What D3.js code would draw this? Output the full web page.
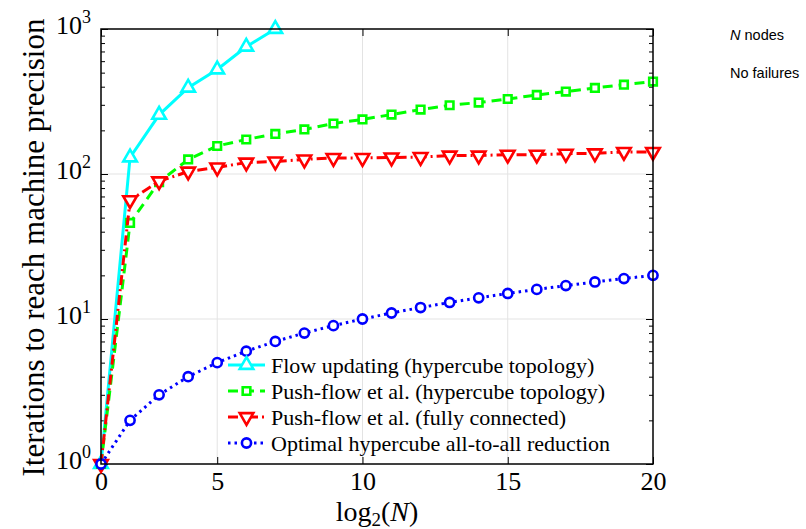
<!DOCTYPE html>
<html>
<head>
<meta charset="utf-8">
<script src="https://cdn.jsdelivr.net/npm/d3@7"></script>
<style>
body { margin: 0; background: #fff; }
.tick line { stroke: #000; }
</style>
</head>
<body>
<div id="chart"></div>
<script>
// SVG container size
var svgWidth = 806;
var svgHeight = 529;

var margin = { top: 29, right: 153, bottom: 65, left: 101 };
var width = svgWidth - margin.left - margin.right;
var height = svgHeight - margin.top - margin.bottom;

// Data
var steps = [1, 2, 3, 4, 5, 6, 7, 8, 9, 10, 11, 12, 13, 14, 15, 16, 17, 18, 19, 20];
var flowUpdating = [1, 130, 256, 394, 526, 755, 1000];
var pushFlowHypercube = [1, 46, 88, 126, 156, 173, 189, 203, 223, 238, 257, 278, 298, 311, 329, 351, 370, 392, 413, 434];
var pushFlowFull = [1, 66, 89, 104, 111, 120, 122, 126, 129, 129, 130, 131, 134, 134, 136, 136, 138, 139, 142, 142];
var optimalReduction = [1, 2, 3, 4, 5, 6, 7, 8, 9, 10, 11, 12, 13, 14, 15, 16, 17, 18, 19, 20];

var xTickValues = [1, 5, 10, 15, 20];
var xTickLabels = ["0", "5", "10", "15", "20"];
var yTickValues = [1, 10, 100, 1000];
var yTickExps = ["0", "1", "2", "3"];

var legendLabels = [
    "Flow updating (hypercube topology)",
    "Push-flow et al. (hypercube topology)",
    "Push-flow et al. (fully connected)",
    "Optimal hypercube all-to-all reduction"
];

var series = [
    { name: legendLabels[0], values: flowUpdating, color: "#00ffff", dash: null, symbol: d3.symbolTriangle, size: 80, rotate: 0 },
    { name: legendLabels[1], values: pushFlowHypercube, color: "#00ff00", dash: "10,6", symbol: d3.symbolSquare, size: 58, rotate: 0 },
    { name: legendLabels[2], values: pushFlowFull, color: "#ff0000", dash: "10,4,2,4", symbol: d3.symbolTriangle, size: 80, rotate: 180 },
    { name: legendLabels[3], values: optimalReduction, color: "#0000ff", dash: "2.5,4", symbol: d3.symbolCircle, size: 66, rotate: 0 }
];

var serif = "'Liberation Serif', 'Times New Roman', serif";

var svg = d3.select("#chart")
    .append("svg")
    .attr("width", svgWidth)
    .attr("height", svgHeight);

var chartGroup = svg.append("g")
    .attr("transform", `translate(${margin.left}, ${margin.top})`);

var xScale = d3.scaleLinear().domain([1, 20]).range([0, width]);
var yScale = d3.scaleLog().domain([1, 1000]).range([height, 0]);

// minor ticks on the log axis
var minorTicks = [];
[1, 10, 100].forEach(function (base) {
    for (var k = 2; k <= 9; k++) minorTicks.push(base * k);
});

// grid
chartGroup.append("g")
    .selectAll("line.gx")
    .data([5, 10, 15])
    .enter()
    .append("line")
    .attr("x1", d => xScale(d)).attr("x2", d => xScale(d))
    .attr("y1", 0).attr("y2", height)
    .attr("stroke", "#e3e3e3").attr("stroke-width", 1);

chartGroup.append("g")
    .selectAll("line.gy")
    .data([10, 100])
    .enter()
    .append("line")
    .attr("x1", 0).attr("x2", width)
    .attr("y1", d => yScale(d)).attr("y2", d => yScale(d))
    .attr("stroke", "#e3e3e3").attr("stroke-width", 1);

// axes (ticks pointing inward)
var xAxis = chartGroup.append("g")
    .attr("transform", `translate(0, ${height})`)
    .call(d3.axisBottom(xScale).tickValues(xTickValues)
        .tickFormat((d, i) => xTickLabels[i])
        .tickSizeInner(-7).tickSizeOuter(0).tickPadding(8));
xAxis.selectAll("text")
    .style("font-family", serif)
    .style("font-size", "26px")
    .attr("fill", "#000");

chartGroup.append("g")
    .call(d3.axisTop(xScale).tickValues(xTickValues).tickFormat("")
        .tickSizeInner(-7).tickSizeOuter(0));

var yAxis = chartGroup.append("g")
    .call(d3.axisLeft(yScale).tickValues(yTickValues).tickFormat("")
        .tickSizeInner(-7).tickSizeOuter(0));

chartGroup.append("g")
    .call(d3.axisLeft(yScale).tickValues(minorTicks).tickFormat("")
        .tickSizeInner(-4).tickSizeOuter(0));

chartGroup.append("g")
    .attr("transform", `translate(${width}, 0)`)
    .call(d3.axisRight(yScale).tickValues(yTickValues).tickFormat("")
        .tickSizeInner(-7).tickSizeOuter(0));

chartGroup.append("g")
    .attr("transform", `translate(${width}, 0)`)
    .call(d3.axisRight(yScale).tickValues(minorTicks).tickFormat("")
        .tickSizeInner(-4).tickSizeOuter(0));

chartGroup.selectAll(".domain").remove();

// y tick labels 10^k
var yLabels = chartGroup.append("g")
    .selectAll("text")
    .data(yTickValues)
    .enter()
    .append("text")
    .attr("x", -10)
    .attr("y", d => yScale(d) + 5)
    .attr("text-anchor", "end")
    .style("font-family", serif)
    .style("font-size", "26px");
yLabels.append("tspan").text("10");
yLabels.append("tspan")
    .attr("dy", -11)
    .style("font-size", "18px")
    .text((d, i) => yTickExps[i]);

// lines and markers
var line = d3.line()
    .x((d, i) => xScale(steps[i]))
    .y(d => yScale(d));

series.forEach(function (s) {
    var g = chartGroup.append("g");
    g.append("path")
        .datum(s.values)
        .attr("d", line)
        .attr("fill", "none")
        .attr("stroke", s.color)
        .attr("stroke-width", 3)
        .attr("stroke-dasharray", s.dash);
    g.selectAll("path.marker")
        .data(s.values)
        .enter()
        .append("path")
        .attr("class", "marker")
        .attr("d", d3.symbol().type(s.symbol).size(s.size))
        .attr("transform", (d, i) => `translate(${xScale(steps[i])}, ${yScale(d)}) rotate(${s.rotate})`)
        .attr("fill", "#fff")
        .attr("stroke", s.color)
        .attr("stroke-width", 2.6);
});

// frame
chartGroup.append("rect")
    .attr("width", width)
    .attr("height", height)
    .attr("fill", "none")
    .attr("stroke", "#000")
    .attr("stroke-width", 1.5);

// legend (no box)
var legend = chartGroup.append("g")
    .attr("transform", "translate(127, 336)");

series.forEach(function (s, i) {
    var row = legend.append("g").attr("transform", `translate(0, ${i * 26})`);
    row.append("line")
        .attr("x1", 0).attr("x2", 37)
        .attr("stroke", s.color)
        .attr("stroke-width", 3)
        .attr("stroke-dasharray", s.dash);
    row.append("path")
        .attr("d", d3.symbol().type(s.symbol).size(s.size))
        .attr("transform", `translate(18.5, 0) rotate(${s.rotate})`)
        .attr("fill", "#fff")
        .attr("stroke", s.color)
        .attr("stroke-width", 2.6);
    row.append("text")
        .attr("x", 43)
        .attr("y", 7.5)
        .style("font-family", serif)
        .style("font-size", "22px")
        .text(s.name);
});

// axis titles
var xTitle = svg.append("text")
    .attr("x", margin.left + width / 2)
    .attr("y", 521)
    .attr("text-anchor", "middle")
    .style("font-family", serif)
    .style("font-size", "28px");
xTitle.append("tspan").text("log");
xTitle.append("tspan").attr("dy", 5).style("font-size", "19px").text("2");
xTitle.append("tspan").attr("dy", -5).text("(");
xTitle.append("tspan").style("font-style", "italic").text("N");
xTitle.append("tspan").text(")");

svg.append("text")
    .attr("transform", `translate(44, ${margin.top + height / 2 + 1}) rotate(-90)`)
    .attr("text-anchor", "middle")
    .style("font-family", serif)
    .style("font-size", "31px")
    .text("Iterations to reach machine precision");

// annotations on the right
var note = svg.append("g")
    .style("font-family", "'Liberation Sans', Arial, sans-serif")
    .style("font-size", "14.5px");
var n1 = note.append("text").attr("x", 730).attr("y", 40);
n1.append("tspan").style("font-style", "italic").text("N");
n1.append("tspan").text(" nodes");
note.append("text").attr("x", 730).attr("y", 78).text("No failures");
</script>
</body>
</html>
